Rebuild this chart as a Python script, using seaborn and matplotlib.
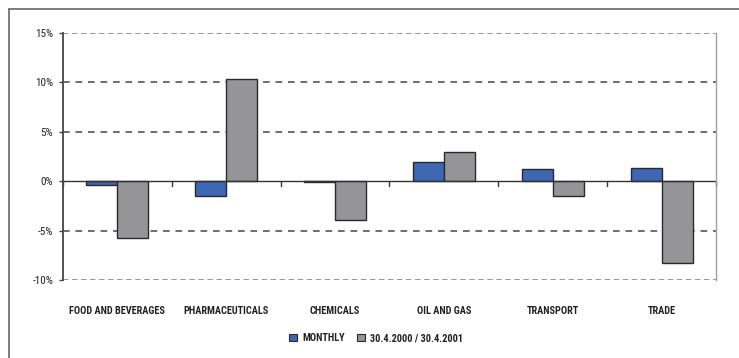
import matplotlib
matplotlib.use("Agg")
import matplotlib.pyplot as plt
from matplotlib.lines import Line2D
from matplotlib.patches import Patch
import pandas as pd
import seaborn as sns

sectors = ["FOOD AND BEVERAGES", "PHARMACEUTICALS", "CHEMICALS",
           "OIL AND GAS", "TRANSPORT", "TRADE"]
monthly = [-0.4, -1.5, -0.1, 1.9, 1.2, 1.3]
yearly = [-5.7, 10.3, -3.9, 3.0, -1.5, -8.3]
series_names = ["MONTHLY", "30.4.2000 / 30.4.2001"]
y_ticks = [-10, -5, 0, 5, 10, 15]

colors = ["#3d66b4", "#959598"]

df = pd.DataFrame({
    "sector": sectors * 2,
    "value": monthly + yearly,
    "series": [series_names[0]] * len(sectors) + [series_names[1]] * len(sectors),
})

sns.set_theme(style="white")
plt.rcParams["font.family"] = ["Roboto Condensed", "Archivo Narrow",
                               "Liberation Sans Narrow", "DejaVu Sans Condensed",
                               "DejaVu Sans"]

fig = plt.figure(figsize=(7.39, 3.58), dpi=100)
ax = fig.add_axes([63 / 739, 1 - 280 / 358, (716 - 63) / 739, (280 - 33) / 358])

sns.barplot(data=df, x="sector", y="value", hue="series", order=sectors,
            hue_order=series_names, palette=colors, width=0.57,
            edgecolor="#2a2a2a", linewidth=1.0, saturation=1, legend=False, ax=ax)

ax.set_ylim(-10, 15)
ax.set_xlim(-0.5, len(sectors) - 0.5)
ax.set_yticks(y_ticks)
ax.set_yticklabels([f"{t}%" for t in y_ticks])
ax.set_xlabel("")
ax.set_ylabel("")

# dashed horizontal guides
for t in y_ticks:
    if t == 0:
        continue
    if t in (15, -10):
        ax.axhline(t, color="#8f8f8f", linestyle=(0, (3, 2)), linewidth=1.3, zorder=0)
    else:
        ax.axhline(t, color="#555555", linestyle=(0, (4, 3.5)), linewidth=1.2, zorder=0)

# category axis crossing at zero, with boundary ticks
ax.axhline(0, color="#333333", linewidth=1.0, zorder=1)
for b in range(len(sectors) + 1):
    ax.plot([b - 0.5, b - 0.5], [0, -0.5], color="#333333", linewidth=1.0,
            zorder=1, clip_on=False)

for s in ["top", "bottom"]:
    ax.spines[s].set_visible(False)
ax.spines["left"].set_color("#444444")
ax.spines["left"].set_linewidth(1.3)
ax.spines["right"].set_color("#a0a0a0")
ax.spines["right"].set_linewidth(1.0)

ax.tick_params(axis="y", left=True, length=3, width=1, color="#444444",
               pad=4, labelsize=8, labelcolor="#222222")
ax.tick_params(axis="x", bottom=False, length=0, pad=19, labelsize=7.4,
               labelcolor="#222222")
for lbl in ax.get_xticklabels():
    lbl.set_fontweight("bold")

# outer frame
fig.add_artist(Line2D([9 / 739, 1.0], [1 - 9 / 358, 1 - 9 / 358],
                      transform=fig.transFigure, color="#666666", linewidth=1.2))
fig.add_artist(Line2D([9 / 739, 9 / 739], [0.0, 1 - 9 / 358],
                      transform=fig.transFigure, color="#666666", linewidth=1.2))

handles = [Patch(facecolor=c, edgecolor="#2a2a2a", linewidth=0.8) for c in colors]
leg = fig.legend(handles, series_names, loc="center", ncol=2,
                 bbox_to_anchor=(376 / 739, 1 - 338 / 358), frameon=False,
                 handlelength=0.75, handleheight=0.75, handletextpad=0.5,
                 columnspacing=1.2, prop={"size": 7.4, "weight": "bold"})
for t in leg.get_texts():
    t.set_color("#222222")

fig.savefig("out.png", dpi=100)
